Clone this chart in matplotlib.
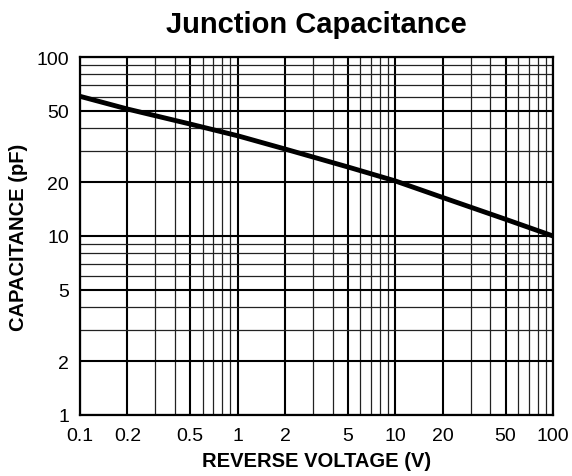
import numpy as np
import matplotlib.pyplot as plt
from matplotlib.ticker import LogLocator, FuncFormatter, NullFormatter

plt.rcParams['font.family'] = ['Liberation Sans', 'DejaVu Sans']

# curve
voltage = [0.1, 0.2, 0.5, 1, 2, 5, 10, 20, 50, 100]
capacitance = [60.3, 51.2, 42.2, 36.3, 30.6, 24.3, 20.3, 16.4, 12.4, 10]

xticks_lbl = [0.1, 0.2, 0.5, 1, 2, 5, 10, 20, 50, 100]
yticks_lbl = [1, 2, 5, 10, 20, 50, 100]

fig = plt.figure(figsize=(5.72, 4.77), dpi=100)
ax = fig.add_axes([0.1399, 0.1279, 0.8269, 0.7505])

ax.plot(voltage, capacitance, color='black', lw=3.5, solid_joinstyle='round',
        solid_capstyle='butt', zorder=5)

ax.set_xscale('log')
ax.set_yscale('log')
ax.set_xlim(0.1, 100)
ax.set_ylim(1, 100)

fmt = FuncFormatter(lambda v, p: '%g' % v)
for axis in (ax.xaxis, ax.yaxis):
    axis.set_major_locator(LogLocator(base=10, subs=(1, 2, 5)))
    axis.set_minor_locator(LogLocator(base=10, subs=(3, 4, 6, 7, 8, 9)))
    axis.set_major_formatter(fmt)
    axis.set_minor_formatter(NullFormatter())
ax.set_xticks(xticks_lbl)
ax.set_yticks(yticks_lbl)

ax.grid(True, which='major', color='black', lw=1.5)
ax.grid(True, which='minor', color='#222222', lw=0.9)
ax.tick_params(which='both', length=0, labelsize=14)
ax.tick_params(axis='x', pad=9)
ax.tick_params(axis='y', pad=8)
for s in ax.spines.values():
    s.set_linewidth(1.6)

ax.set_xlabel('REVERSE VOLTAGE (V)', fontsize=14.5, fontweight='bold', labelpad=5)
ax.set_ylabel('CAPACITANCE (pF)', fontsize=14.5, fontweight='bold', labelpad=6)
ax.set_title('Junction Capacitance', fontsize=21, fontweight='bold', pad=18)

fig.savefig('out.png', dpi=100)
